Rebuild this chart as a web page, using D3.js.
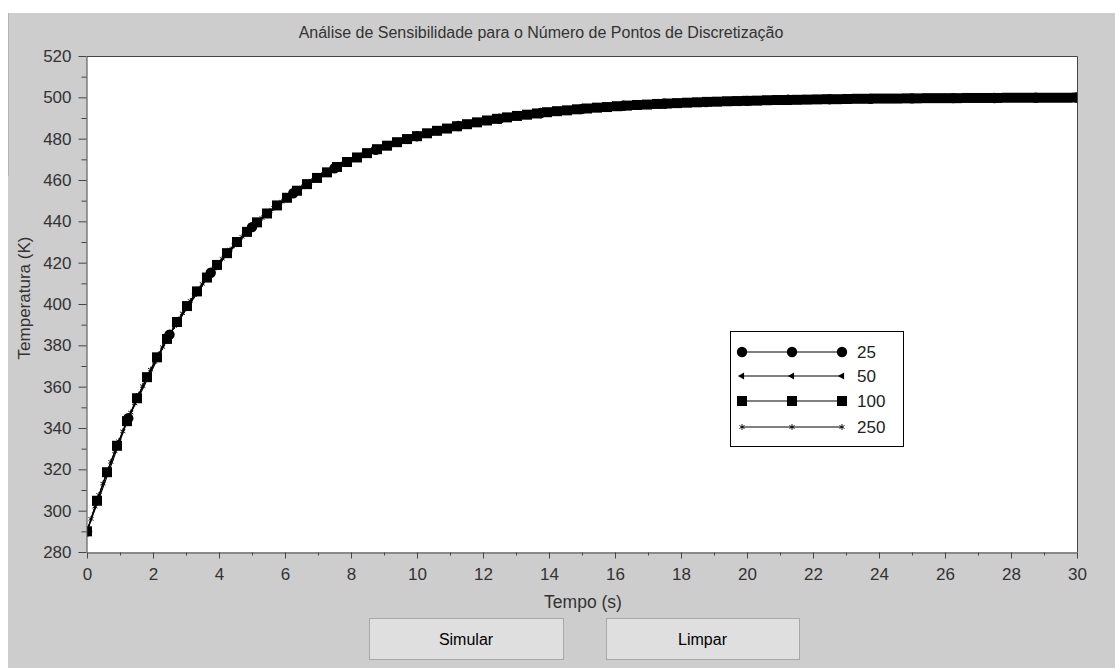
<!DOCTYPE html>
<html>
<head>
<meta charset="utf-8">
<script src="https://cdn.jsdelivr.net/npm/d3@7"></script>
<style>
  html, body { margin: 0; padding: 0; background: #ffffff; }
  svg { display: block; }
  text { font-family: "Liberation Sans", Arial, sans-serif; }
</style>
</head>
<body>
<svg id="chart" width="1115" height="668"></svg>
<script>
// ---------------- DATA ----------------
const chartTitle = "Análise de Sensibilidade para o Número de Pontos de Discretização";
const xLabel = "Tempo (s)";
const yLabel = "Temperatura (K)";
const seriesNames = ["25", "50", "100", "250"];
const tStart = 0, tEnd = 30;               // uniform time grid per series
const xTickValues = [0,2,4,6,8,10,12,14,16,18,20,22,24,26,28,30];
const yTickValues = [280,300,320,340,360,380,400,420,440,460,480,500,520];
const buttonLabels = ["Simular", "Limpar"];

const temp25 = [290.0,344.7,385.2,415.1,437.2,453.6,465.7,474.6,481.2,486.1,
  489.7,492.4,494.4,495.9,496.9,497.7,498.3,498.8,499.1,499.3,
  499.5,499.6,499.7,499.8,499.9];

const temp50 = [290.0,318.9,343.8,365.2,383.8,399.7,413.5,425.4,435.7,444.5,
  452.1,458.7,464.4,469.3,473.5,477.2,480.3,483.0,485.3,487.4,
  489.1,490.6,491.9,493.0,494.0,494.8,495.5,496.1,496.7,497.1,
  497.5,497.9,498.2,498.4,498.6,498.8,499.0,499.1,499.2,499.3,
  499.4,499.5,499.6,499.6,499.7,499.7,499.8,499.8,499.8,499.9];

const temp100 = [290.0,304.8,318.6,331.4,343.3,354.4,364.6,374.2,383.1,391.3,
  399.0,406.1,412.8,418.9,424.6,430.0,434.9,439.5,443.8,447.7,
  451.4,454.8,458.0,461.0,463.7,466.3,468.7,470.9,473.0,474.9,
  476.6,478.3,479.8,481.2,482.6,483.8,484.9,486.0,487.0,487.9,
  488.8,489.6,490.3,491.0,491.6,492.2,492.8,493.3,493.7,494.2,
  494.6,495.0,495.3,495.7,496.0,496.3,496.5,496.8,497.0,497.2,
  497.4,497.6,497.8,497.9,498.1,498.2,498.3,498.4,498.6,498.7,
  498.7,498.8,498.9,499.0,499.1,499.1,499.2,499.3,499.3,499.4,
  499.4,499.4,499.5,499.5,499.6,499.6,499.6,499.6,499.7,499.7,
  499.7,499.7,499.8,499.8,499.8,499.8,499.8,499.8,499.8,499.9];

const temp250 = [290.0,296.0,301.9,307.6,313.1,318.4,323.6,328.7,333.6,338.4,
  343.0,347.5,351.9,356.1,360.3,364.3,368.2,372.0,375.6,379.2,
  382.7,386.0,389.3,392.5,395.5,398.5,401.5,404.3,407.0,409.7,
  412.3,414.8,417.2,419.6,421.9,424.2,426.3,428.4,430.5,432.5,
  434.4,436.3,438.1,439.9,441.6,443.3,444.9,446.5,448.0,449.5,
  451.0,452.4,453.7,455.1,456.4,457.6,458.8,460.0,461.2,462.3,
  463.4,464.4,465.4,466.4,467.4,468.3,469.2,470.1,471.0,471.8,
  472.6,473.4,474.2,474.9,475.6,476.3,477.0,477.7,478.3,478.9,
  479.5,480.1,480.7,481.2,481.8,482.3,482.8,483.3,483.8,484.2,
  484.7,485.1,485.6,486.0,486.4,486.8,487.2,487.5,487.9,488.2,
  488.6,488.9,489.2,489.5,489.8,490.1,490.4,490.7,490.9,491.2,
  491.5,491.7,491.9,492.2,492.4,492.6,492.8,493.0,493.2,493.4,
  493.6,493.8,494.0,494.2,494.3,494.5,494.6,494.8,494.9,495.1,
  495.2,495.4,495.5,495.6,495.8,495.9,496.0,496.1,496.2,496.3,
  496.4,496.5,496.6,496.7,496.8,496.9,497.0,497.1,497.2,497.3,
  497.3,497.4,497.5,497.6,497.6,497.7,497.8,497.8,497.9,497.9,
  498.0,498.1,498.1,498.2,498.2,498.3,498.3,498.4,498.4,498.5,
  498.5,498.6,498.6,498.6,498.7,498.7,498.7,498.8,498.8,498.9,
  498.9,498.9,499.0,499.0,499.0,499.0,499.1,499.1,499.1,499.1,
  499.2,499.2,499.2,499.2,499.3,499.3,499.3,499.3,499.3,499.4,
  499.4,499.4,499.4,499.4,499.4,499.5,499.5,499.5,499.5,499.5,
  499.5,499.5,499.6,499.6,499.6,499.6,499.6,499.6,499.6,499.6,
  499.7,499.7,499.7,499.7,499.7,499.7,499.7,499.7,499.7,499.7,
  499.7,499.8,499.8,499.8,499.8,499.8,499.8,499.8,499.8,499.8,
  499.8,499.8,499.8,499.8,499.8,499.8,499.8,499.9,499.9,499.9];

// ---------------- LAYOUT ----------------
const svg = d3.select("#chart");
const W = 1115, H = 668;
const plot = { left: 87, right: 1077, top: 56, bottom: 552 };
const axisColor = "#444444";
const textColor = "#333333";

// window panel
svg.append("rect").attr("x", 0).attr("y", 0).attr("width", W).attr("height", H).attr("fill", "#ffffff");
svg.append("rect").attr("x", 8).attr("y", 13).attr("width", W - 8).attr("height", H - 13).attr("fill", "#cdcdcd");
svg.append("line").attr("x1", 8.5).attr("x2", 8.5).attr("y1", 13).attr("y2", 176)
  .attr("stroke", "#b4b4b4").attr("stroke-width", 1);

const x = d3.scaleLinear().domain([tStart, tEnd]).range([plot.left, plot.right]);
const y = d3.scaleLinear().domain([280, 520]).range([plot.bottom, plot.top]);

// plot background
svg.append("rect").attr("x", plot.left).attr("y", plot.top)
  .attr("width", plot.right - plot.left).attr("height", plot.bottom - plot.top)
  .attr("fill", "#ffffff");

// clip
svg.append("defs").append("clipPath").attr("id", "plotclip")
  .append("rect").attr("x", plot.left).attr("y", plot.top)
  .attr("width", plot.right - plot.left).attr("height", plot.bottom - plot.top);

// series
function toPoints(vals) {
  const n = vals.length;
  return vals.map((v, i) => ({ t: tStart + i * (tEnd - tStart) / (n - 1), v }));
}
const series = [
  { name: seriesNames[0], data: toPoints(temp25),  marker: "circle" },
  { name: seriesNames[1], data: toPoints(temp50),  marker: "triLeft" },
  { name: seriesNames[2], data: toPoints(temp100), marker: "square" },
  { name: seriesNames[3], data: toPoints(temp250), marker: "asterisk" }
];

const line = d3.line().x(d => x(d.t)).y(d => y(d.v));

function drawMarker(g, type, cx, cy) {
  if (type === "circle") {
    g.append("circle").attr("cx", cx).attr("cy", cy).attr("r", 5.2).attr("fill", "#000");
  } else if (type === "square") {
    g.append("rect").attr("x", cx - 5).attr("y", cy - 5).attr("width", 10).attr("height", 10).attr("fill", "#000");
  } else if (type === "triLeft") {
    g.append("path").attr("d", d3.symbol().type(d3.symbolTriangle).size(22)())
      .attr("transform", `translate(${cx},${cy}) rotate(-90)`).attr("fill", "#000");
  } else if (type === "asterisk") {
    g.append("path").attr("d", d3.symbol().type(d3.symbolAsterisk).size(24)())
      .attr("transform", `translate(${cx},${cy})`).attr("fill", "none")
      .attr("stroke", "#000").attr("stroke-width", 0.9);
  }
}

const dataG = svg.append("g").attr("clip-path", "url(#plotclip)");
series.forEach(s => {
  dataG.append("path").datum(s.data).attr("d", line)
    .attr("fill", "none").attr("stroke", "#000").attr("stroke-width", 1.1);
  const mg = dataG.append("g");
  s.data.forEach(d => drawMarker(mg, s.marker, x(d.t), y(d.v)));
});

// frame (top & right)
svg.append("path")
  .attr("d", `M${plot.left},${plot.top + 0.5}H${plot.right + 0.5}V${plot.bottom}`)
  .attr("fill", "none").attr("stroke", axisColor).attr("stroke-width", 1);

// axes
function styleAxis(g) {
  g.selectAll("path.domain").attr("stroke", axisColor);
  g.selectAll(".tick line").attr("stroke", axisColor);
  g.selectAll(".tick text").attr("fill", textColor)
    .attr("font-family", '"Liberation Sans", Arial, sans-serif').attr("font-size", 17);
}
const xMinor = d3.range(1, 30, 2);
const yMinor = d3.range(290, 520, 20);

svg.append("g").attr("transform", `translate(0,${plot.bottom + 0.5})`)
  .call(d3.axisBottom(x).tickValues(xMinor).tickSize(3).tickFormat(""))
  .call(g => g.select(".domain").remove())
  .call(styleAxis);
svg.append("g").attr("transform", `translate(0,${plot.bottom + 0.5})`)
  .call(d3.axisBottom(x).tickValues(xTickValues).tickSize(6).tickSizeOuter(0).tickPadding(9).tickFormat(d3.format("d")))
  .call(styleAxis);

svg.append("g").attr("transform", `translate(${plot.left - 0.5},0)`)
  .call(d3.axisLeft(y).tickValues(yMinor).tickSize(5).tickFormat(""))
  .call(g => g.select(".domain").remove())
  .call(styleAxis);
svg.append("g").attr("transform", `translate(${plot.left - 0.5},0)`)
  .call(d3.axisLeft(y).tickValues(yTickValues).tickSize(8).tickSizeOuter(0).tickPadding(7).tickFormat(d3.format("d")))
  .call(styleAxis);

// title & labels
svg.append("text").attr("x", 541).attr("y", 38).attr("text-anchor", "middle")
  .attr("font-size", 16).attr("fill", textColor).text(chartTitle);
svg.append("text").attr("x", 583).attr("y", 608).attr("text-anchor", "middle")
  .attr("font-size", 17.5).attr("fill", textColor).text(xLabel);
svg.append("text").attr("transform", "translate(30,298) rotate(-90)").attr("text-anchor", "middle")
  .attr("font-size", 17).attr("fill", textColor).text(yLabel);

// legend
const leg = svg.append("g");
leg.append("rect").attr("x", 730.5).attr("y", 331.5).attr("width", 173).attr("height", 115)
  .attr("fill", "#fff").attr("stroke", "#000").attr("stroke-width", 1);
const legRows = [352, 376, 401, 427];
const legX = [742, 792, 842];
series.forEach((s, i) => {
  const yy = legRows[i];
  leg.append("line").attr("x1", legX[0]).attr("x2", legX[2]).attr("y1", yy).attr("y2", yy)
    .attr("stroke", "#000").attr("stroke-width", 1);
  legX.forEach(xx => drawMarker(leg, s.marker, xx, yy));
  leg.append("text").attr("x", 857).attr("y", yy + 6).attr("font-size", 17)
    .attr("fill", "#222").text(s.name);
});

// buttons
const buttons = [
  { label: buttonLabels[0], x: 369, w: 194 },
  { label: buttonLabels[1], x: 606, w: 193 }
];
buttons.forEach(b => {
  svg.append("rect").attr("x", b.x + 0.5).attr("y", 618.5).attr("width", b.w).attr("height", 41)
    .attr("fill", "#dfdfdf").attr("stroke", "#a8a8a8").attr("stroke-width", 1);
  svg.append("text").attr("x", b.x + b.w / 2).attr("y", 645).attr("text-anchor", "middle")
    .attr("font-size", 16).attr("fill", "#000").text(b.label);
});
</script>
</body>
</html>
